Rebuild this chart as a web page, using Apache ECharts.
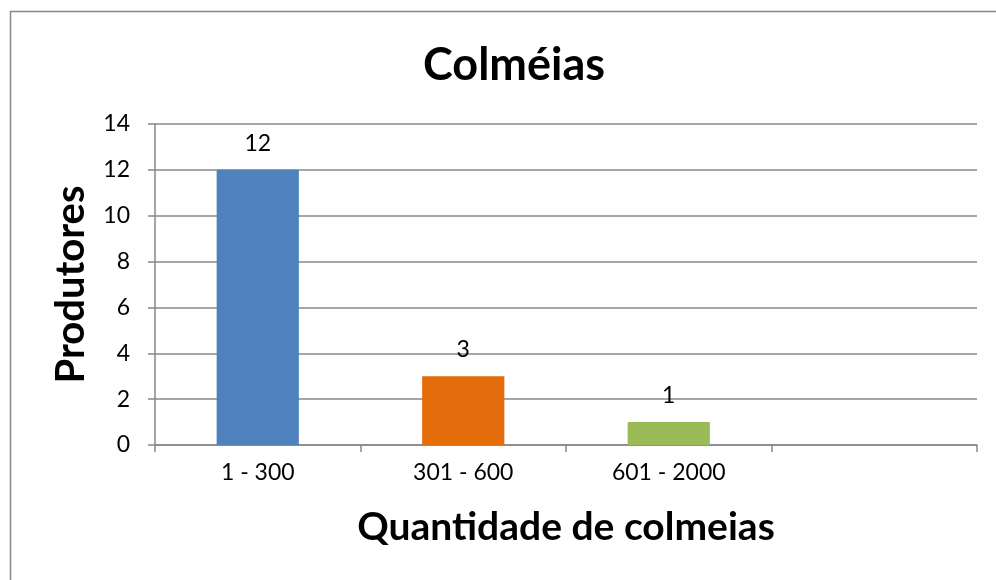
<!DOCTYPE html>
<html>
<head>
<meta charset="utf-8">
<style>
  html, body { margin: 0; padding: 0; background: #fff; }
  #chart { width: 996px; height: 580px; }
</style>
<script src="https://cdn.jsdelivr.net/npm/echarts@6/dist/echarts.min.js"></script>
</head>
<body>
<div id="chart"></div>
<script>
(function () {
    // data
    const categories = ['1 - 300', '301 - 600', '601 - 2000', ''];
    const produtores = [12, 3, 1, null];
    const barColors = ['#4F81BD', '#E46C0A', '#9BBB59', '#4F81BD'];

    const font = 'Lato, "Open Sans", sans-serif';

    const option = {
        animation: false,
        title: {
            text: 'Colméias',
            left: 418,
            top: 38,
            textStyle: { fontFamily: font, fontSize: 45, fontWeight: 'bold', color: '#000' }
        },
        graphic: [{
            type: 'rect',
            shape: { x: 10.5, y: 11.5, width: 1000, height: 600 },
            style: { fill: 'none', stroke: '#888', lineWidth: 1.5 }
        }],
        grid: { left: 155, right: 19, top: 124, bottom: 135 },
        xAxis: {
            type: 'category',
            data: categories,
            name: 'Quantidade de colmeias',
            nameLocation: 'middle',
            nameGap: 63,
            nameTextStyle: { fontFamily: font, fontSize: 39, fontWeight: 'bold', color: '#000' },
            axisLine: { lineStyle: { color: '#888', width: 1.5 } },
            axisTick: { show: true, length: 7, lineStyle: { color: '#888', width: 1.5 } },
            axisLabel: { fontFamily: font, fontSize: 23, color: '#000', margin: 16 }
        },
        yAxis: {
            type: 'value',
            min: 0,
            max: 14,
            interval: 2,
            name: 'Produtores',
            nameLocation: 'middle',
            nameGap: 64,
            nameTextStyle: { fontFamily: font, fontSize: 40, fontWeight: 'bold', color: '#000' },
            axisLine: { show: true, lineStyle: { color: '#888', width: 1.5 } },
            axisTick: { show: true, length: 7, lineStyle: { color: '#888', width: 1.5 } },
            axisLabel: { fontFamily: font, fontSize: 23, color: '#000', margin: 25 },
            splitLine: { lineStyle: { color: '#888', width: 1.5 } }
        },
        series: [{
            name: 'Produtores',
            type: 'bar',
            barWidth: '40%',
            data: produtores.map(function (v, i) {
                return { value: v, itemStyle: { color: barColors[i] } };
            }),
            label: {
                show: true,
                position: 'top',
                distance: 15,
                fontFamily: font,
                fontSize: 23,
                color: '#000'
            }
        }]
    };

    const myChart = echarts.init(document.getElementById('chart'));
    myChart.setOption(option);
}());
</script>
</body>
</html>
